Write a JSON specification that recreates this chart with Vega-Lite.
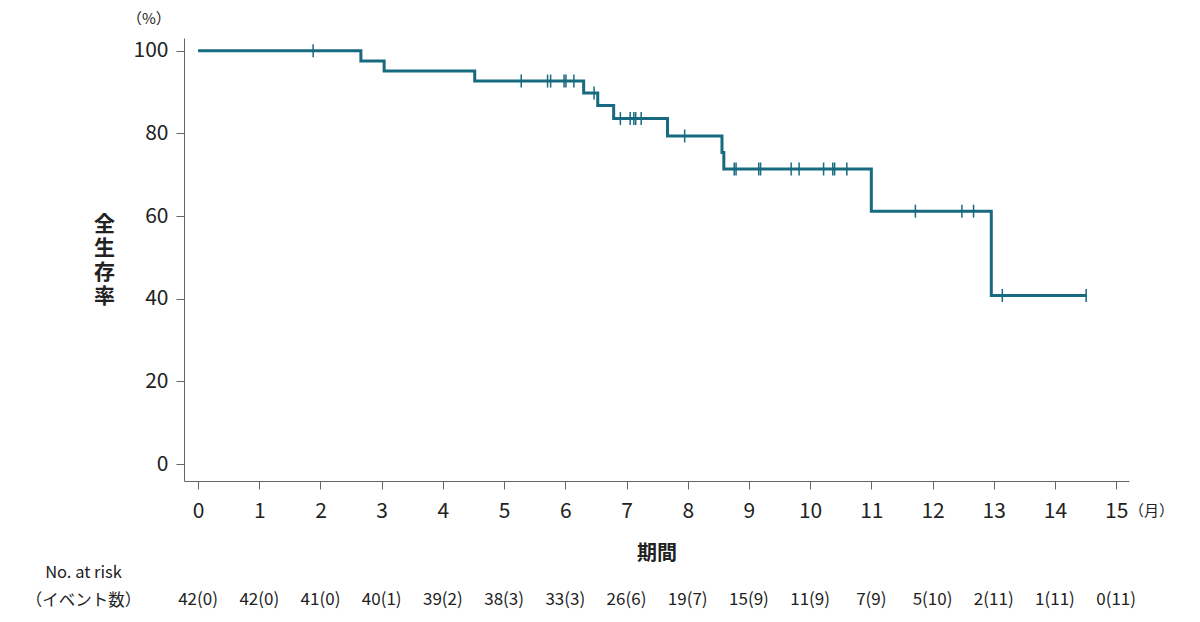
{
  "$schema": "https://vega.github.io/schema/vega-lite/v6.json",
  "padding": {"left": 25, "top": 12, "right": 5, "bottom": 5},
  "background": "white",
  "config": {
    "font": "Noto Sans CJK JP",
    "view": {"stroke": null},
    "concat": {"spacing": 22}
  },
  "datasets": {
    "km": [
      {"t": 0, "s": 100},
      {"t": 2.66, "s": 97.56},
      {"t": 3.04, "s": 95.12},
      {"t": 4.52, "s": 92.68},
      {"t": 6.3, "s": 89.78},
      {"t": 6.53, "s": 86.79},
      {"t": 6.79, "s": 83.6},
      {"t": 7.67, "s": 79.4},
      {"t": 8.56, "s": 75.4},
      {"t": 8.59, "s": 71.4},
      {"t": 11.0, "s": 61.2},
      {"t": 12.96, "s": 40.8},
      {"t": 14.52, "s": 40.8}
    ],
    "cens": [
      {"t": 1.88, "s": 100},
      {"t": 5.28, "s": 92.68},
      {"t": 5.71, "s": 92.68},
      {"t": 5.76, "s": 92.68},
      {"t": 5.98, "s": 92.68},
      {"t": 6.01, "s": 92.68},
      {"t": 6.14, "s": 92.68},
      {"t": 6.47, "s": 89.78},
      {"t": 6.9, "s": 83.6},
      {"t": 7.06, "s": 83.6},
      {"t": 7.12, "s": 83.6},
      {"t": 7.15, "s": 83.6},
      {"t": 7.24, "s": 83.6},
      {"t": 7.95, "s": 79.4},
      {"t": 8.76, "s": 71.4},
      {"t": 8.79, "s": 71.4},
      {"t": 9.16, "s": 71.4},
      {"t": 9.19, "s": 71.4},
      {"t": 9.69, "s": 71.4},
      {"t": 9.82, "s": 71.4},
      {"t": 10.22, "s": 71.4},
      {"t": 10.37, "s": 71.4},
      {"t": 10.4, "s": 71.4},
      {"t": 10.6, "s": 71.4},
      {"t": 11.72, "s": 61.2},
      {"t": 12.48, "s": 61.2},
      {"t": 12.67, "s": 61.2},
      {"t": 13.14, "s": 40.8},
      {"t": 14.51, "s": 40.8}
    ],
    "risk": [
      {"month": 0, "row": "（イベント数）", "label": "42(0)"},
      {"month": 1, "row": "（イベント数）", "label": "42(0)"},
      {"month": 2, "row": "（イベント数）", "label": "41(0)"},
      {"month": 3, "row": "（イベント数）", "label": "40(1)"},
      {"month": 4, "row": "（イベント数）", "label": "39(2)"},
      {"month": 5, "row": "（イベント数）", "label": "38(3)"},
      {"month": 6, "row": "（イベント数）", "label": "33(3)"},
      {"month": 7, "row": "（イベント数）", "label": "26(6)"},
      {"month": 8, "row": "（イベント数）", "label": "19(7)"},
      {"month": 9, "row": "（イベント数）", "label": "15(9)"},
      {"month": 10, "row": "（イベント数）", "label": "11(9)"},
      {"month": 11, "row": "（イベント数）", "label": "7(9)"},
      {"month": 12, "row": "（イベント数）", "label": "5(10)"},
      {"month": 13, "row": "（イベント数）", "label": "2(11)"},
      {"month": 14, "row": "（イベント数）", "label": "1(11)"},
      {"month": 15, "row": "（イベント数）", "label": "0(11)"}
    ]
  },
  "vconcat": [
    {
      "width": 945,
      "height": 443,
      "title": {"text": "（%）", "anchor": "start", "frame": "group", "fontSize": 15, "fontWeight": "normal", "color": "#222", "dx": -57, "offset": 11},
      "layer": [
        {
          "data": {"name": "km"},
          "mark": {"type": "line", "interpolate": "step-after", "color": "#176a7f", "strokeWidth": 3},
          "encoding": {
            "x": {
              "field": "t", "type": "quantitative",
              "scale": {"domain": [-0.23, 15.21], "nice": false, "zero": false},
              "axis": {
                "values": [0,1,2,3,4,5,6,7,8,9,10,11,12,13,14,15], "format": "d",
                "grid": false, "domainColor": "#666", "tickColor": "#666", "tickSize": 8,
                "labelFontSize": 21, "labelColor": "#222", "labelPadding": 11,
                "title": "（月）", "titleFontSize": 15, "titleFontWeight": "normal", "titleColor": "#222",
                "titleX": 967, "titleY": 29, "titleBaseline": "middle", "titleAlign": "center"
              }
            },
            "y": {
              "field": "s", "type": "quantitative",
              "scale": {"domain": [-4.1, 103.1], "nice": false, "zero": false},
              "axis": {
                "values": [0,20,40,60,80,100],
                "grid": false, "domainColor": "#666", "tickColor": "#666", "tickSize": 8,
                "labelFontSize": 21, "labelColor": "#222", "labelPadding": 8,
                "title": ["全","生","存","率"], "titleAngle": 0, "titleFontSize": 21, "titleFontWeight": "bold",
                "titleColor": "#222", "titleLineHeight": 24, "titleX": -80, "titleY": 186,
                "titleBaseline": "middle", "titleAlign": "center"
              }
            }
          }
        },
        {
          "data": {"name": "cens"},
          "mark": {"type": "tick", "orient": "vertical", "color": "#176a7f", "size": 13, "thickness": 1.5, "opacity": 1},
          "encoding": {
            "x": {"field": "t", "type": "quantitative"},
            "y": {"field": "s", "type": "quantitative"}
          }
        }
      ]
    },
    {
      "width": 945,
      "height": 56,
      "data": {"name": "risk"},
      "mark": {"type": "text", "fontSize": 17, "color": "#222"},
      "encoding": {
        "x": {
          "field": "month", "type": "quantitative",
          "scale": {"domain": [-0.23, 15.21], "nice": false, "zero": false},
          "axis": {
            "orient": "top", "labels": false, "ticks": false, "domain": false, "grid": false,
            "title": "期間", "titleFontSize": 20, "titleFontWeight": "bold", "titleColor": "#222", "titlePadding": -5
          }
        },
        "y": {
          "field": "row", "type": "nominal",
          "scale": {"domain": ["No. at risk", "（イベント数）"]},
          "axis": {
            "title": null, "ticks": false, "domain": false, "grid": false, "tickSize": 0,
            "labelFontSize": 16.5, "labelColor": "#222", "labelAlign": "center", "labelPadding": 101
          }
        },
        "text": {"field": "label"}
      }
    }
  ]
}
